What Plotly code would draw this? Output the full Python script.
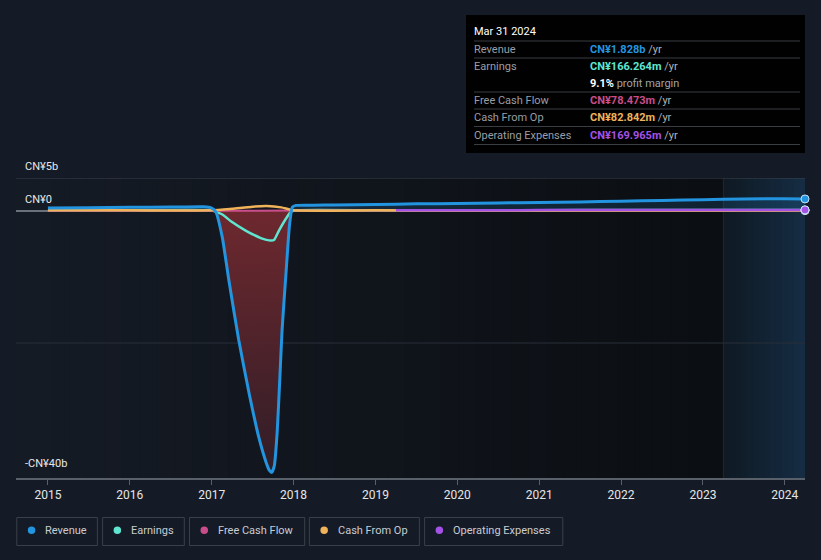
import plotly.graph_objects as go
import numpy as np

# ---------------- data (CN¥ billions, decimal years) ----------------
rev_x = [2015.0, 2015.5, 2016.0, 2016.5, 2016.9, 2017.0, 2017.05, 2017.13, 2017.21, 2017.33,
         2017.46, 2017.58, 2017.66, 2017.705, 2017.735, 2017.765, 2017.8, 2017.83, 2017.86, 2017.91, 2017.95,
         2017.985, 2018.03, 2018.25, 2018.5, 2019.0, 2019.5, 2020.0, 2020.5, 2021.0, 2021.5, 2022.0,
         2022.5, 2023.0, 2023.5, 2024.0, 2024.247]
rev_y = [0.45, 0.5, 0.55, 0.6, 0.65, 0.45, -0.1, -4.0, -10.5, -19.5,
         -27.8, -34.5, -37.9, -39.3, -39.6, -38.6, -33.5, -26.0, -18.0, -9.0, -2.2,
         0.6, 0.85, 0.88, 0.92, 1.0, 1.08, 1.15, 1.22, 1.3, 1.38, 1.48,
         1.6, 1.72, 1.82, 1.85, 1.828]

earn_x = [2015.0, 2016.0, 2017.0, 2017.05, 2017.14, 2017.24, 2017.42, 2017.6, 2017.7, 2017.76, 2017.82,
          2017.91, 2017.97, 2018.05, 2019.0, 2020.0, 2021.0, 2022.0, 2023.0, 2024.0, 2024.247]
earn_y = [0.08, 0.1, 0.1, -0.1, -0.6, -1.6, -3.0, -4.1, -4.45, -4.4, -3.0,
          -1.1, -0.1, 0.1, 0.1, 0.12, 0.13, 0.14, 0.15, 0.16, 0.166]

cfo_x = [2015.0, 2016.0, 2017.0, 2017.25, 2017.5, 2017.67, 2017.85, 2018.0, 2019.0,
         2020.0, 2021.0, 2022.0, 2023.0, 2024.0, 2024.247]
cfo_y = [0.1, 0.1, 0.1, 0.35, 0.65, 0.75, 0.55, 0.1, 0.1,
         0.09, 0.09, 0.08, 0.08, 0.08, 0.083]

fcf_x = [2015.0, 2016.0, 2017.0, 2018.0, 2019.0, 2020.0, 2021.0, 2022.0, 2023.0, 2024.0, 2024.247]
fcf_y = [0.05, 0.05, 0.05, 0.06, 0.07, 0.07, 0.07, 0.07, 0.075, 0.078, 0.078]

opex_x = [2019.25, 2019.75, 2020.25, 2020.75, 2021.25, 2021.75, 2022.25, 2022.75, 2023.25,
          2023.75, 2024.247]
opex_y = [0.12, 0.12, 0.13, 0.13, 0.14, 0.14, 0.15, 0.16, 0.16, 0.17, 0.17]

x_ticks = [2015, 2016, 2017, 2018, 2019, 2020, 2021, 2022, 2023, 2024]
y_grid = [5, 0, -20]
y_labels = {5: "CN¥5b", 0: "CN¥0", -40: "-CN¥40b"}

forecast_start = 2023.25

# ---------------- styling ----------------
BG = "#151b26"
C_REV = "#2394df"
C_EARN = "#5ee6d0"
C_FCF = "#c94d8a"
C_CFO = "#f0b35a"
C_OPEX = "#a451e6"

W, H = 821, 560
L, R, T, B = 16, 16, 178, 82
XR = [2014.61, 2024.247]
YR = [-40.45, 5.0]

def px(xp):
    return (xp - L) / (W - L - R)

def py(yp):
    return (H - B - yp) / (H - T - B)

fig = go.Figure()

SM = 0.5
# revenue fills
rev_pos = [max(v, 0) for v in rev_y]
rev_neg = [min(v, 0) for v in rev_y]
fig.add_trace(go.Scatter(x=rev_x, y=rev_pos, mode="lines", line=dict(width=0, shape="spline", smoothing=SM),
                         fill="tozeroy", fillcolor="rgba(35,148,223,0.16)", hoverinfo="skip"))
fig.add_trace(go.Scatter(x=rev_x, y=rev_neg, mode="lines", line=dict(width=0, shape="spline", smoothing=SM),
                         fill="tozeroy",
                         fillgradient=dict(type="vertical",
                                           colorscale=[[0, "rgba(52,30,40,0.9)"], [1, "rgba(120,42,48,0.9)"]]),
                         hoverinfo="skip"))

def line(x, y, color, width=2):
    fig.add_trace(go.Scatter(x=x, y=y, mode="lines",
                             line=dict(color=color, width=width, shape="spline", smoothing=SM),
                             hoverinfo="skip"))

line(earn_x, earn_y, C_EARN, 2.5)
line(fcf_x, fcf_y, C_FCF, 2)
line(cfo_x, cfo_y, C_CFO, 2.5)
line(opex_x, opex_y, C_OPEX, 2.5)
line(rev_x, rev_y, C_REV, 3)

# end markers
for xs, ys, c in [(fcf_x, fcf_y, C_FCF), (cfo_x, cfo_y, C_CFO), (earn_x, earn_y, C_EARN),
                  (opex_x, opex_y, C_OPEX), (rev_x, rev_y, C_REV)]:
    fig.add_trace(go.Scatter(x=xs[-1:], y=ys[-1:], mode="markers",
                             marker=dict(color=c, size=8, line=dict(color="#c8e4f8", width=1)),
                             hoverinfo="skip", cliponaxis=False))

shapes = []
def hex2rgb(h):
    h = h.lstrip("#")
    return [int(h[i:i + 2], 16) for i in (0, 2, 4)]

def strips(x0, x1, c0, c1, n):
    a, b = hex2rgb(c0), hex2rgb(c1)
    edges = np.linspace(x0, x1, n + 1)
    for i in range(n):
        t = i / (n - 1)
        col = "rgb(%d,%d,%d)" % tuple(round(a[k] + (b[k] - a[k]) * t) for k in range(3))
        shapes.append(dict(type="rect", xref="x", yref="paper", x0=edges[i], x1=edges[i + 1] + 0.01,
                           y0=0, y1=1, fillcolor=col, line=dict(width=0), layer="below"))

strips(XR[0], forecast_start, "#151b25", "#0b0e12", 40)
strips(forecast_start, XR[1], "#0f1a24", "#152c42", 14)
shapes.append(dict(type="line", xref="x", yref="paper", x0=forecast_start, x1=forecast_start, y0=0, y1=1,
                   line=dict(color="#1e2935", width=1), layer="below"))

# gridlines
for g in y_grid:
    col = "#8a8f96" if g == 0 else ("#3c424c" if g == 5 else "#2a2f38")
    shapes.append(dict(type="line", xref="paper", yref="y", x0=0, x1=1, y0=g, y1=g,
                       line=dict(color=col, width=1.3 if g == 0 else 1), layer="below"))

annotations = []
for v, t in y_labels.items():
    annotations.append(dict(xref="paper", yref="y", x=px(23), y=v, text=t, showarrow=False,
                            xanchor="left", yanchor="bottom", yshift=3,
                            font=dict(color="#e8e8e8", size=11, family="Roboto")))

# tooltip box
shapes.append(dict(type="rect", xref="paper", yref="paper", x0=px(466), x1=px(805), y0=py(153), y1=py(15),
                   fillcolor="#000000", line=dict(width=0), opacity=0.95))
for ly in [41, 58, 92, 109, 126.5, 144.5]:
    shapes.append(dict(type="line", xref="paper", yref="paper", x0=px(474), x1=px(800), y0=py(ly), y1=py(ly),
                       line=dict(color="#3a3d42", width=1)))
annotations.append(dict(xref="paper", yref="paper", x=px(472), y=py(31), text="Mar 31 2024", showarrow=False,
                        xanchor="left", yanchor="middle", font=dict(color="#ffffff", size=11, family="Roboto")))
rows = [
    (49, "Revenue", "CN¥1.828b", C_REV, " /yr"),
    (66, "Earnings", "CN¥166.264m", C_EARN, " /yr"),
    (100, "Free Cash Flow", "CN¥78.473m", C_FCF, " /yr"),
    (117.5, "Cash From Op", "CN¥82.842m", C_CFO, " /yr"),
    (135, "Operating Expenses", "CN¥169.965m", C_OPEX, " /yr"),
]
for yy, lab, val, c, suf in rows:
    annotations.append(dict(xref="paper", yref="paper", x=px(472), y=py(yy), text=lab, showarrow=False,
                            xanchor="left", yanchor="middle", font=dict(color="#9a9ea4", size=11, family="Roboto")))
    annotations.append(dict(xref="paper", yref="paper", x=px(588), y=py(yy),
                            text="<b><span style='color:%s'>%s</span></b><span style='color:#b0b4b8'>%s</span>" % (c, val, suf),
                            showarrow=False, xanchor="left", yanchor="middle",
                            font=dict(size=11, family="Roboto")))
annotations.append(dict(xref="paper", yref="paper", x=px(588), y=py(83),
                        text="<b><span style='color:#ffffff'>9.1%</span></b><span style='color:#a0a4a8'> profit margin</span>",
                        showarrow=False, xanchor="left", yanchor="middle", font=dict(size=11, family="Roboto")))

# legend boxes
legend = [("Revenue", C_REV, 16.8, 97.4), ("Earnings", C_EARN, 102.6, 184.3),
          ("Free Cash Flow", C_FCF, 189.5, 304.7), ("Cash From Op", C_CFO, 309.4, 419.4),
          ("Operating Expenses", C_OPEX, 424.6, 562.8)]
for name, c, x0, x1 in legend:
    shapes.append(dict(type="rect", xref="paper", yref="paper", x0=px(x0), x1=px(x1), y0=py(545.5), y1=py(517.5),
                       fillcolor="rgba(0,0,0,0)", line=dict(color="#3a404a", width=1)))
    shapes.append(dict(type="circle", xref="paper", yref="paper", x0=px(x0 + 11), x1=px(x0 + 18.5),
                       y0=py(534), y1=py(526.5), fillcolor=c, line=dict(width=0)))
    annotations.append(dict(xref="paper", yref="paper", x=px(x0 + 26.5), y=py(530.5), text=name, showarrow=False,
                            xanchor="left", yanchor="middle", font=dict(color="#c8ccd2", size=11, family="Roboto")))

fig.update_layout(
    width=W, height=H, margin=dict(l=L, r=R, t=T, b=B),
    paper_bgcolor=BG, plot_bgcolor=BG, showlegend=False,
    shapes=shapes, annotations=annotations,
    xaxis=dict(range=XR, tickvals=x_ticks, ticktext=[str(t) for t in x_ticks], showgrid=False, zeroline=False,
               showline=True, linecolor="#5a606a", linewidth=1.5, ticks="outside", ticklen=5, tickcolor="#5a606a",
               tickfont=dict(color="#e6e6e6", size=12, family="Roboto"), fixedrange=True),
    yaxis=dict(range=YR, showgrid=False, zeroline=False, showticklabels=False, showline=False, fixedrange=True),
)

fig.write_html("out.html", config={"displayModeBar": False},
               post_script="document.body.style.margin='0';document.body.style.background='%s';" % BG)
